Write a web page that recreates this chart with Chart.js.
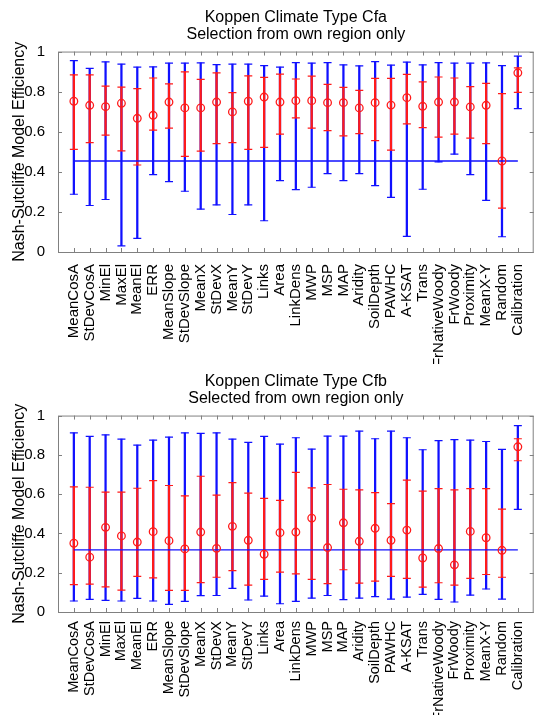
<!DOCTYPE html>
<html>
<head>
<meta charset="utf-8">
<script src="https://cdn.jsdelivr.net/npm/chart.js@4/dist/chart.umd.min.js"></script>
<style>
  body { margin: 0; background: #fff; }
  canvas { position: absolute; left: 0; }
  #cfa { top: 0; }
  #cfb { top: 364px; }
</style>
</head>
<body>
<canvas id="cfa" width="539" height="364"></canvas>
<canvas id="cfb" width="539" height="351"></canvas>
<script>
// predictor names on the x axis
const categories = ['MeanCosA', 'StDevCosA', 'MinEl', 'MaxEl', 'MeanEl', 'ERR', 'MeanSlope', 'StDevSlope',
    'MeanX', 'StDevX', 'MeanY', 'StDevY', 'Links', 'Area', 'LinkDens', 'MWP', 'MSP', 'MAP', 'Aridity',
    'SoilDepth', 'PAWHC', 'A-KSAT', 'Trans', 'FrNativeWoody', 'FrWoody', 'Proximity', 'MeanX-Y', 'Random', 'Calibration']

const yTicks = [0, 0.2, 0.4, 0.6, 0.8, 1]

// Cfa - selection from own region only
const cfaRangeHigh = [0.955, 0.916, 0.949, 0.937, 0.922, 0.924, 0.942, 0.942, 0.944, 0.935, 0.937, 0.937, 0.930, 0.922, 0.945,
    0.942, 0.945, 0.934, 0.929, 0.950, 0.932, 0.947, 0.934, 0.945, 0.942, 0.942, 0.944, 0.930, 0.977]
const cfaRangeLow = [0.288, 0.232, 0.262, 0.031, 0.068, 0.386, 0.351, 0.303, 0.214, 0.235, 0.187, 0.235, 0.156, 0.356, 0.311,
    0.323, 0.391, 0.356, 0.391, 0.331, 0.273, 0.078, 0.313, 0.450, 0.488, 0.386, 0.258, 0.076, 0.715]
const cfaIqrHigh = [0.884, 0.884, 0.828, 0.823, 0.815, 0.868, 0.839, 0.899, 0.861, 0.894, 0.795, 0.879, 0.871, 0.887, 0.863,
    0.877, 0.836, 0.821, 0.806, 0.866, 0.866, 0.886, 0.849, 0.873, 0.868, 0.825, 0.841, 0.790, 0.919]
const cfaIqrLow = [0.512, 0.546, 0.583, 0.505, 0.434, 0.608, 0.618, 0.477, 0.503, 0.541, 0.546, 0.512, 0.522, 0.588, 0.669,
    0.618, 0.606, 0.579, 0.591, 0.556, 0.508, 0.639, 0.621, 0.573, 0.588, 0.568, 0.541, 0.219, 0.796]
const cfaMedian = [0.752, 0.732, 0.725, 0.742, 0.667, 0.682, 0.748, 0.719, 0.719, 0.748, 0.699, 0.752, 0.773, 0.748, 0.755,
    0.755, 0.745, 0.745, 0.719, 0.745, 0.733, 0.770, 0.727, 0.748, 0.748, 0.724, 0.732, 0.454, 0.894]
const cfaRandomLevel = 0.454

// Cfb - selected from own region only
const cfbRangeHigh = [0.912, 0.894, 0.902, 0.880, 0.850, 0.875, 0.890, 0.912, 0.909, 0.912, 0.880, 0.863, 0.894, 0.855, 0.887,
    0.829, 0.895, 0.895, 0.921, 0.882, 0.921, 0.887, 0.826, 0.872, 0.878, 0.875, 0.868, 0.828, 0.949]
const cfbRangeLow = [0.056, 0.064, 0.059, 0.056, 0.069, 0.056, 0.039, 0.054, 0.083, 0.084, 0.120, 0.061, 0.081, 0.042, 0.054,
    0.071, 0.084, 0.063, 0.071, 0.078, 0.066, 0.076, 0.090, 0.064, 0.051, 0.086, 0.117, 0.066, 0.522]
const cfbIqrHigh = [0.637, 0.635, 0.610, 0.610, 0.630, 0.669, 0.644, 0.591, 0.691, 0.595, 0.659, 0.605, 0.578, 0.568, 0.711,
    0.632, 0.649, 0.625, 0.622, 0.608, 0.552, 0.671, 0.615, 0.628, 0.622, 0.628, 0.628, 0.524, 0.882]
const cfbIqrLow = [0.139, 0.142, 0.128, 0.111, 0.181, 0.174, 0.110, 0.110, 0.150, 0.177, 0.211, 0.137, 0.166, 0.203, 0.194,
    0.166, 0.144, 0.215, 0.147, 0.157, 0.181, 0.171, 0.127, 0.149, 0.137, 0.171, 0.191, 0.177, 0.770]
const cfbMedian = [0.350, 0.279, 0.431, 0.387, 0.356, 0.409, 0.363, 0.321, 0.407, 0.324, 0.436, 0.365, 0.294, 0.404, 0.407,
    0.478, 0.328, 0.454, 0.360, 0.426, 0.365, 0.417, 0.275, 0.323, 0.240, 0.410, 0.378, 0.314, 0.841]
const cfbRandomLevel = 0.316

const FONT = 'Liberation Sans, Arial, Helvetica, sans-serif'
const BLUE = '#1010ff'
const RED = '#ff1a1a'

// matlab style box with inward ticks
const boxPlugin = {
    id: 'box',
    afterDatasetsDraw(chart) {
        const {ctx, chartArea: a, scales} = chart
        ctx.save()
        ctx.strokeStyle = '#808080'
        ctx.lineWidth = 1
        ctx.strokeRect(a.left + 0.5, a.top + 0.5, a.right - a.left - 1, a.bottom - a.top)
        ctx.beginPath()
        scales.x.ticks.forEach(t => {
            const px = Math.round(scales.x.getPixelForValue(t.value)) + 0.5
            ctx.moveTo(px, a.bottom); ctx.lineTo(px, a.bottom - 4)
            ctx.moveTo(px, a.top); ctx.lineTo(px, a.top + 4)
        })
        scales.y.ticks.forEach(t => {
            const py = Math.round(scales.y.getPixelForValue(t.value)) + 0.5
            ctx.moveTo(a.left, py); ctx.lineTo(a.left + 4, py)
            ctx.moveTo(a.right, py); ctx.lineTo(a.right - 4, py)
        })
        ctx.stroke()
        ctx.restore()
    }
}

function pts(values) {
    return values.map((v, i) => ({x: i + 1, y: v}))
}

function spans(lo, hi) {
    return lo.map((v, i) => ({x: i + 1, y: [v, hi[i]]}))
}

function makeChart(id, titleLines, rangeLow, rangeHigh, iqrLow, iqrHigh, median, randomLevel, xAxisHeight, labelGap, labelSize) {
    const capStyle = color => ({
        type: 'line', showLine: false, pointStyle: 'line', pointRadius: 4,
        pointBorderColor: color, pointBorderWidth: 1.2
    })
    return new Chart(document.getElementById(id), {
        type: 'bar',
        data: {
            datasets: [
                {data: spans(rangeLow, rangeHigh), backgroundColor: BLUE, barThickness: 1.6, grouped: false, order: 9},
                {data: pts(rangeHigh), ...capStyle(BLUE), order: 8},
                {data: pts(rangeLow), ...capStyle(BLUE), order: 8},
                {data: spans(iqrLow, iqrHigh), backgroundColor: RED, barThickness: 1.6, grouped: false, order: 6},
                {data: pts(iqrHigh), ...capStyle(RED), order: 5},
                {data: pts(iqrLow), ...capStyle(RED), order: 5},
                {
                    type: 'line', data: [{x: 1, y: randomLevel}, {x: categories.length, y: randomLevel}],
                    borderColor: BLUE, borderWidth: 1.4, pointRadius: 0, order: 3
                },
                {
                    type: 'line', data: pts(median), showLine: false, pointStyle: 'circle', pointRadius: 3.8,
                    pointBorderColor: RED, pointBackgroundColor: 'rgba(0,0,0,0)', pointBorderWidth: 1.3, order: 1
                }
            ]
        },
        options: {
            responsive: false,
            animation: false,
            layout: {padding: {right: 1, left: 0, top: 0, bottom: 0}},
            plugins: {
                legend: {display: false},
                tooltip: {enabled: false},
                title: {
                    display: true, text: titleLines, fullSize: false, color: '#000',
                    font: {family: FONT, size: 16, weight: 'normal', lineHeight: 1.08},
                    padding: {top: 9, bottom: 8}
                }
            },
            scales: {
                x: {
                    type: 'linear', min: 0, max: categories.length + 1, offset: false,
                    grid: {display: false}, border: {display: false},
                    afterBuildTicks: scale => { scale.ticks = categories.map((c, i) => ({value: i + 1})) },
                    afterFit: scale => {
                        scale.height = xAxisHeight
                        scale.paddingLeft = 0
                        scale.paddingRight = 0
                    },
                    ticks: {
                        autoSkip: false, minRotation: 90, maxRotation: 90, padding: labelGap, color: '#000',
                        font: {family: FONT, size: labelSize},
                        callback: value => categories[value - 1]
                    }
                },
                y: {
                    min: 0, max: 1,
                    grid: {display: false}, border: {display: false},
                    afterBuildTicks: scale => { scale.ticks = yTicks.map(v => ({value: v})) },
                    afterFit: scale => {
                        scale.width = 58
                        scale.paddingTop = 0
                        scale.paddingBottom = 0
                    },
                    ticks: {padding: 5, color: '#000', font: {family: FONT, size: 15}, callback: value => String(value)},
                    title: {
                        display: true, text: 'Nash-Sutcliffe Model Efficiency', color: '#000',
                        font: {family: FONT, size: 16}, padding: {top: 10, bottom: 0}
                    }
                }
            }
        },
        plugins: [boxPlugin]
    })
}

makeChart('cfa', ['Koppen Climate Type Cfa', 'Selection from own region only'],
    cfaRangeLow, cfaRangeHigh, cfaIqrLow, cfaIqrHigh, cfaMedian, cfaRandomLevel, 112, 4, 15)
makeChart('cfb', ['Koppen Climate Type Cfb', 'Selected from own region only'],
    cfbRangeLow, cfbRangeHigh, cfbIqrLow, cfbIqrHigh, cfbMedian, cfbRandomLevel, 103, 1, 14.5)
</script>
</body>
</html>
